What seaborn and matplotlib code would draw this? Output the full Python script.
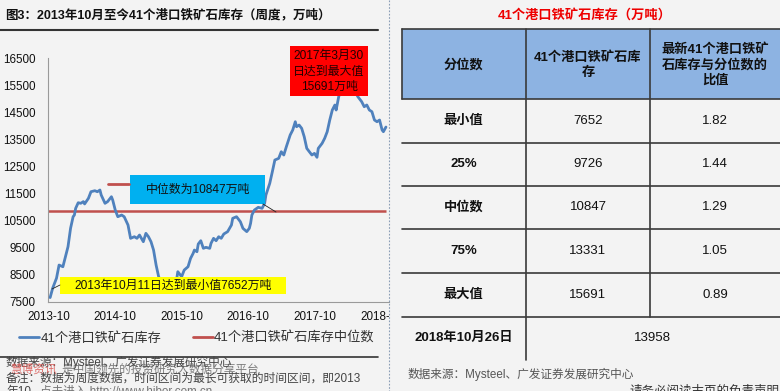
import numpy as np
import pandas as pd
import matplotlib
matplotlib.use("Agg")
import matplotlib.pyplot as plt
import matplotlib.dates as mdates
from matplotlib.patches import Rectangle
from matplotlib.lines import Line2D
from matplotlib.transforms import Bbox, TransformedBbox
import seaborn as sns

# ---------------- data ----------------
start_date = "2013-10-11"
weeks = [0, 2, 5, 7, 10, 11, 14, 16, 18, 19,
         20, 22, 24, 26, 27, 30, 32, 35, 37, 39,
         40, 43, 45, 48, 49, 51, 53, 56, 58, 61,
         63, 66, 68, 70, 73, 75, 77, 79, 81, 83,
         85, 87, 90, 93, 97, 99, 100, 103, 105, 108,
         110, 112, 113, 115, 116, 118, 120, 122, 125, 126,
         128, 130, 132, 134, 136, 139, 142, 143, 146, 149,
         151, 154, 156, 157, 158, 160, 163, 166, 168, 169,
         172, 174, 176, 179, 181, 183, 185, 188, 190, 192,
         193, 195, 197, 199, 201, 203, 205, 207, 209, 210,
         213, 215, 217, 219, 221, 223, 224, 226, 228, 231,
         234, 237, 239, 241, 244, 246, 248, 250, 252, 254,
         256, 258, 260, 261, 263]
inventory = [7652, 8000, 8370, 8855, 8793, 8978, 9533, 10213, 10642, 10705,
             10953, 11160, 11138, 11200, 11115, 11323, 11567, 11604, 11567, 11630,
             11445, 11138, 11200, 11382, 11260, 10890, 10642, 10705, 10642, 10335,
             9843, 9903, 9843, 9965, 9718, 10028, 9903, 9718, 9410, 8855,
             8423, 8250, 8100, 8180, 8050, 8300, 8610, 8423, 8670, 8793,
             9103, 9287, 9410, 9348, 9632, 9755, 9473, 9510, 9473, 9658,
             9843, 9755, 9903, 9843, 10003, 10090, 10335, 10583, 10642, 10457,
             10213, 10090, 10213, 10398, 10705, 10890, 10990, 10953, 11138, 11445,
             11877, 12300, 12739, 12800, 13046, 12924, 13231, 13663, 13848, 14155,
             13970, 14032, 13910, 13600, 13170, 13046, 12924, 12985, 12838, 13170,
             13355, 13540, 13786, 14218, 14588, 14773, 14588, 15080, 15350, 15600,
             15691, 15500, 15250, 15080, 14895, 14710, 14773, 14588, 14527, 14218,
             14155, 14218, 13848, 13786, 13958]

quantile_labels = ["最小值", "25%", "中位数", "75%", "最大值"]
quantile_values = [7652, 9726, 10847, 13331, 15691]
ratio_values = [1.82, 1.44, 1.29, 1.05, 0.89]
latest_label = "2018年10月26日"
latest_value = 13958

series_names = ["41个港口铁矿石库存", "41个港口铁矿石库存中位数"]
table_headers = ["分位数", "41个港口铁矿石库\n存", "最新41个港口铁矿\n石库存与分位数的\n比值"]
y_ticks = list(range(7500, 16501, 1000))

# ---------------- style ----------------
sns.set_theme(style="white")
plt.rcParams['font.family'] = ['Liberation Sans', 'Noto Sans CJK SC', 'DejaVu Sans']
plt.rcParams['axes.unicode_minus'] = False

BG = '#f3f3f3'
BLUE = '#4f81bd'
RED = '#c0504d'
W, H = 780, 391


def fx(px):
    return px / W


def fy(py):
    return 1 - py / H


fig = plt.figure(figsize=(7.8, 3.91), dpi=100, facecolor=BG)

# ---------------- line chart ----------------
ax = fig.add_axes([fx(48.3), fy(301.7), fx(388.5) - fx(48.3), fy(58.3) - fy(301.7)])
ax.set_facecolor(BG)

dates = pd.to_datetime(start_date) + pd.to_timedelta(np.array(weeks) * 7, unit='D')
df = pd.DataFrame({'date': dates, 'inv': inventory})
sns.lineplot(data=df, x='date', y='inv', ax=ax, color=BLUE, linewidth=2.0, zorder=3)

x_left = pd.Timestamp("2013-10-01")
x_right = pd.Timestamp("2018-11-09")
med = quantile_values[2]
ax.hlines(med, x_left, dates[-1], color=RED, linewidth=1.8, zorder=2)

ax.set_xlim(x_left, x_right)
ax.set_ylim(7500, 16500)
ax.set_yticks(y_ticks)
ax.xaxis.set_major_locator(mdates.MonthLocator(bymonth=[10]))
ax.xaxis.set_major_formatter(mdates.DateFormatter('%Y-%m'))
ax.set_xlabel("")
ax.set_ylabel("")
for s in ['top', 'right']:
    ax.spines[s].set_visible(False)
for s in ['left', 'bottom']:
    ax.spines[s].set_color('#9a9a9a')
    ax.spines[s].set_linewidth(0.8)
ax.tick_params(axis='both', direction='out', length=3, width=0.8, color='#9a9a9a',
               labelsize=8.4, labelcolor='#111111')
ax.tick_params(axis='y', pad=6)
ax.tick_params(axis='x', pad=4)

handles = [Line2D([], [], color=BLUE, lw=2.0), Line2D([], [], color=RED, lw=2.0)]
fig.legend(handles, series_names, loc='center', bbox_to_anchor=(fx(197), fy(338)),
           ncol=2, frameon=False, fontsize=9.5, handlelength=1.5, handletextpad=0.1,
           columnspacing=2.4, labelcolor='#333333')

# ---------------- overlay for annotations and table ----------------
ov = fig.add_axes([0, 0, 1, 1], zorder=10)
ov.set_xlim(0, W)
ov.set_ylim(H, 0)
ov.axis('off')
ov.patch.set_alpha(0)

# title and rules
ov.text(5, 15, "图3：2013年10月至今41个港口铁矿石库存（周度，万吨）", fontsize=9,
        fontweight='bold', va='center', ha='left', color='#111111')
ov.plot([0, 378], [29.5, 29.5], color='#333333', lw=1.5)
ov.plot([0, 378], [356.7, 356.7], color='#333333', lw=1.2)
ov.plot([389.3, 389.3], [0, H], color='#8a9db5', lw=0.8, ls=(0, (1.5, 1.5)))

# median annotation
ov.add_patch(Rectangle((130, 175), 135, 29, fc='#00b0f0', ec='none'))
ov.text(198, 190, f"中位数为{med}万吨", fontsize=8.6, ha='center', va='center', color='#111111')
ov.plot([108, 129], [184, 184], color=RED, lw=2.0)
ov.plot([263, 276], [204, 212], color='#222222', lw=0.6)

# minimum annotation
ov.add_patch(Rectangle((60, 277), 226, 17, fc='#ffff00', ec='none'))
ov.text(173, 285.8, f"2013年10月11日达到最小值{quantile_values[0]}万吨", fontsize=8.6,
        ha='center', va='center', color='#111111')
ov.plot([52, 60], [289, 285], color='#222222', lw=0.6)

# maximum annotation
ov.add_patch(Rectangle((290, 46), 78, 50, fc='#ff0000', ec='none'))
ov.text(329, 71.5, f"2017年3月30\n日达到最大值\n{quantile_values[4]}万吨", fontsize=8.6,
        ha='center', va='center', color='#220000', linespacing=1.35)

# footer (left)
ov.text(6, 362.7, "数据来源：Mysteel、广发证券发展研究中心", fontsize=8.4, color='#444444', va='center')
ov.text(10, 369.5, "慧博资讯", fontsize=8.4, color='#d9534f', va='center', alpha=0.85)
ov.text(62, 369.5, "是中国领先的投资研究大数据分享平台", fontsize=8.4, color='#555555', va='center', alpha=0.75)
ov.text(6, 379, "备注：数据为周度数据，时间区间为最长可获取的时间区间，即2013", fontsize=8.5,
        color='#444444', va='center')
ov.text(6, 391.5, "年10", fontsize=8.5, color='#444444', va='center')
ov.text(40, 391, "点击进入 http://www.hibor.com.cn", fontsize=8.4, color='#555555', va='center', alpha=0.8)

# ---------------- table ----------------
col_x = [401.7, 525.7, 650.3, 780]
head_top, head_bot = 29.3, 99
row_edges = [99, 142.7, 185.7, 229.3, 273.3, 316.7, 360]
line_c = '#3a3a3a'

ov.text(585, 15, "41个港口铁矿石库存（万吨）", fontsize=9.5, fontweight='bold',
        color='#ee0000', ha='center', va='center')
ov.add_patch(Rectangle((col_x[0], head_top), col_x[3] - col_x[0], head_bot - head_top,
                       fc='#8db3e2', ec='none'))
ov.plot([col_x[0], col_x[3]], [head_top, head_top], color=line_c, lw=1.2)
ov.plot([col_x[0], col_x[0]], [head_top, head_bot], color=line_c, lw=1.2)
for y in row_edges[:-1]:
    ov.plot([col_x[0], col_x[3]], [y, y], color=line_c, lw=1.2)
ov.plot([col_x[1], col_x[1]], [head_top, row_edges[-1]], color=line_c, lw=1.2)
ov.plot([col_x[2], col_x[2]], [head_top, row_edges[-2]], color=line_c, lw=1.2)

centers = [(col_x[i] + col_x[i + 1]) / 2 for i in range(3)]
for i, h in enumerate(table_headers):
    ov.text(centers[i], 65, h, fontsize=9.5, fontweight='bold', ha='center', va='center',
            color='#111111', linespacing=1.3)

for r in range(len(quantile_labels)):
    yc = (row_edges[r] + row_edges[r + 1]) / 2
    ov.text(centers[0], yc, quantile_labels[r], fontsize=9.5, fontweight='bold',
            ha='center', va='center', color='#111111')
    ov.text(centers[1], yc, f"{quantile_values[r]}", fontsize=9.5,
            ha='center', va='center', color='#111111')
    ov.text(centers[2], yc, f"{ratio_values[r]:.2f}", fontsize=9.5,
            ha='center', va='center', color='#111111')

yc = (row_edges[-2] + row_edges[-1]) / 2
ov.text(centers[0], yc, latest_label, fontsize=9.5, fontweight='bold',
        ha='center', va='center', color='#111111')
ov.text((col_x[1] + col_x[3]) / 2, yc, f"{latest_value}", fontsize=9.5,
        ha='center', va='center', color='#111111')

ov.text(407, 374, "数据来源：Mysteel、广发证券发展研究中心", fontsize=8.4, color='#555555', va='center')
ov.text(630, 392, "请务必阅读末页的免责声明", fontsize=9, color='#333333', va='center')

# clip the chart tick labels at the panel separator
fig.canvas.draw()
clip = TransformedBbox(Bbox([[0, 0], [388.5 / W, 1]]), fig.transFigure)
for lab in ax.get_xticklabels():
    lab.set_clip_on(True)
    lab.set_clip_box(clip)

fig.savefig("out.png", dpi=100, facecolor=BG)
